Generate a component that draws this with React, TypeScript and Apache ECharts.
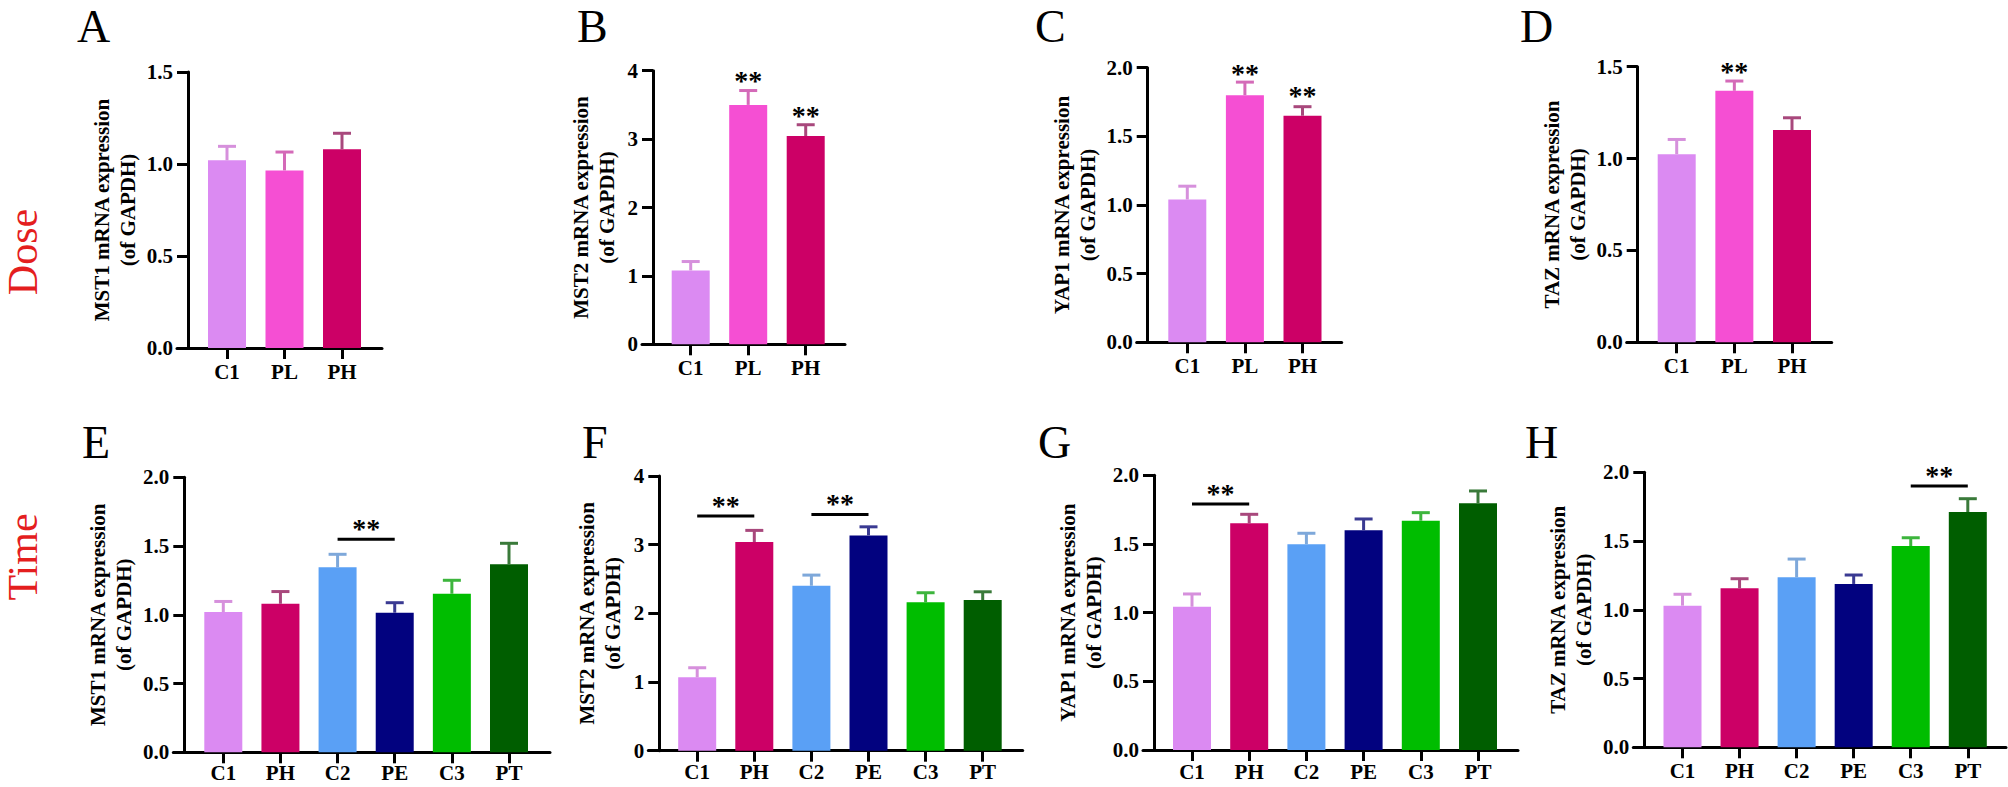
import React, { useEffect, useRef } from 'react';
import * as echarts from 'echarts';

// ---------- data ----------
const doseCategories = ['C1', 'PL', 'PH'];
const timeCategories = ['C1', 'PH', 'C2', 'PE', 'C3', 'PT'];

const mst1DoseMean = [1.02, 0.965, 1.08];
const mst1DoseSd = [0.076, 0.1, 0.087];
const mst2DoseMean = [1.08, 3.5, 3.045];
const mst2DoseSd = [0.13, 0.21, 0.165];
const yap1DoseMean = [1.04, 1.8, 1.65];
const yap1DoseSd = [0.097, 0.095, 0.066];
const tazDoseMean = [1.024, 1.369, 1.155];
const tazDoseSd = [0.08, 0.053, 0.067];

const mst1TimeMean = [1.02, 1.08, 1.345, 1.015, 1.153, 1.367];
const mst1TimeSd = [0.077, 0.089, 0.095, 0.073, 0.098, 0.153];
const mst2TimeMean = [1.068, 3.038, 2.402, 3.135, 2.16, 2.194];
const mst2TimeSd = [0.14, 0.17, 0.155, 0.125, 0.14, 0.12];
const yap1TimeMean = [1.043, 1.65, 1.498, 1.6, 1.669, 1.796];
const yap1TimeSd = [0.093, 0.066, 0.08, 0.082, 0.059, 0.09];
const tazTimeMean = [1.03, 1.156, 1.236, 1.188, 1.464, 1.711];
const tazTimeSd = [0.083, 0.07, 0.133, 0.065, 0.06, 0.097];

// significance stars directly above a bar: [categoryIndex, value of star centre]
const starsB = [[1, 3.91], [2, 3.41]];
const starsC = [[1, 1.99], [2, 1.827]];
const starsD = [[1, 1.495]];
// brackets: [fromIndex, toIndex, value of line]
const bracketsE = [[2, 3, 1.549]];
const bracketsF = [[0, 1, 3.416], [2, 3, 3.44]];
const bracketsG = [[0, 1, 1.791]];
const bracketsH = [[4, 5, 1.9]];

// ---------- styles ----------
const doseColors = ['#DB8AF2', '#F54FD3', '#CC0066'];
const doseErrColors = ['#D690DC', '#D46AB8', '#A8487C'];
const timeColors = ['#DB8AF2', '#CC0066', '#5AA0F5', '#02027F', '#00BD00', '#005E00'];
const timeErrColors = ['#D690DC', '#A8487C', '#7EA8DA', '#3A3A92', '#3DB53D', '#3A7A3A'];

const SERIF = '"Liberation Serif", "Times New Roman", serif';

type Panel = {
  letter: string;
  cats: string[];
  mean: number[];
  sd: number[];
  max: number;
  interval: number;
  name: string;
  colors: string[];
  errColors: string[];
  stars: number[][];
  brackets: number[][];
};

const panels: Panel[] = [
  { letter: 'A', cats: doseCategories, mean: mst1DoseMean, sd: mst1DoseSd, max: 1.5, interval: 0.5, name: 'MST1 mRNA expression\n(of GAPDH)', colors: doseColors, errColors: doseErrColors, stars: [], brackets: [] },
  { letter: 'B', cats: doseCategories, mean: mst2DoseMean, sd: mst2DoseSd, max: 4, interval: 1, name: 'MST2 mRNA expression\n(of GAPDH)', colors: doseColors, errColors: doseErrColors, stars: starsB, brackets: [] },
  { letter: 'C', cats: doseCategories, mean: yap1DoseMean, sd: yap1DoseSd, max: 2, interval: 0.5, name: 'YAP1 mRNA expression\n(of GAPDH)', colors: doseColors, errColors: doseErrColors, stars: starsC, brackets: [] },
  { letter: 'D', cats: doseCategories, mean: tazDoseMean, sd: tazDoseSd, max: 1.5, interval: 0.5, name: 'TAZ mRNA expression\n(of GAPDH)', colors: doseColors, errColors: doseErrColors, stars: starsD, brackets: [] },
  { letter: 'E', cats: timeCategories, mean: mst1TimeMean, sd: mst1TimeSd, max: 2, interval: 0.5, name: 'MST1 mRNA expression\n(of GAPDH)', colors: timeColors, errColors: timeErrColors, stars: [], brackets: bracketsE },
  { letter: 'F', cats: timeCategories, mean: mst2TimeMean, sd: mst2TimeSd, max: 4, interval: 1, name: 'MST2 mRNA expression\n(of GAPDH)', colors: timeColors, errColors: timeErrColors, stars: [], brackets: bracketsF },
  { letter: 'G', cats: timeCategories, mean: yap1TimeMean, sd: yap1TimeSd, max: 2, interval: 0.5, name: 'YAP1 mRNA expression\n(of GAPDH)', colors: timeColors, errColors: timeErrColors, stars: [], brackets: bracketsG },
  { letter: 'H', cats: timeCategories, mean: tazTimeMean, sd: tazTimeSd, max: 2, interval: 0.5, name: 'TAZ mRNA expression\n(of GAPDH)', colors: timeColors, errColors: timeErrColors, stars: [], brackets: bracketsH },
];

// ---------- layout (pixels) ----------
const LETTER_SIZE = 46;
const layout = [
  { axisX: 188, top: 72, bottom: 348, firstC: 227, step: 57.5, xEnd: 382, letterX: 77, letterBase: 42, labelMargin: 13 },
  { axisX: 653, top: 70.7, bottom: 344.3, firstC: 690.7, step: 57.5, xEnd: 845, letterX: 577, letterBase: 42, labelMargin: 13 },
  { axisX: 1147.7, top: 67.7, bottom: 342.3, firstC: 1187.3, step: 57.6, xEnd: 1341.7, letterX: 1035, letterBase: 42, labelMargin: 13 },
  { axisX: 1637.7, top: 66.7, bottom: 342.3, firstC: 1676.7, step: 57.65, xEnd: 1831.7, letterX: 1520, letterBase: 42, labelMargin: 13 },
  { axisX: 184.3, top: 477.3, bottom: 752.3, firstC: 223.3, step: 57.14, xEnd: 550, letterX: 82, letterBase: 458, labelMargin: 10 },
  { axisX: 659.3, top: 476, bottom: 750.7, firstC: 697.2, step: 57.1, xEnd: 1022.7, letterX: 582, letterBase: 458, labelMargin: 11 },
  { axisX: 1154, top: 475.3, bottom: 750, firstC: 1192, step: 57.2, xEnd: 1518, letterX: 1038, letterBase: 458, labelMargin: 11 },
  { axisX: 1644.3, top: 472.3, bottom: 747.3, firstC: 1682.5, step: 57.06, xEnd: 2006, letterX: 1525, letterBase: 458, labelMargin: 13 },
];

const TICK = 11;
const LW = 3;

function buildOption() {
  const grid: any[] = [];
  const xAxis: any[] = [];
  const yAxis: any[] = [];
  const series: any[] = [];
  const graphic: any[] = [];

  panels.forEach((p, k) => {
    const L = layout[k];
    const n = p.cats.length;
    const barLeft = L.firstC - L.step / 2;
    const height = L.bottom - L.top;
    const frameLeft = L.axisX - TICK;
    const gBar = grid.length;
    grid.push({ left: barLeft, top: L.top, width: L.step * n, height, outerBoundsMode: 'none', containLabel: false });
    const gFrame = grid.length;
    grid.push({ left: frameLeft, top: L.top, width: L.xEnd - frameLeft, height, outerBoundsMode: 'none', containLabel: false });

    const xBar = xAxis.length;
    xAxis.push({
      type: 'category',
      gridIndex: gBar,
      data: p.cats,
      boundaryGap: true,
      axisLine: { show: false },
      axisTick: { show: true, alignWithLabel: true, length: TICK, lineStyle: { color: '#000', width: LW } },
      axisLabel: { show: true, interval: 0, margin: L.labelMargin, color: '#000', fontFamily: SERIF, fontWeight: 'bold', fontSize: 21 },
      splitLine: { show: false },
    });
    xAxis.push({
      type: 'value',
      gridIndex: gFrame,
      min: 0,
      max: 1,
      axisLine: { show: true, onZero: false, lineStyle: { color: '#000', width: LW } },
      axisTick: { show: false },
      axisLabel: { show: false },
      splitLine: { show: false },
    });

    const isDecimal = p.interval < 1;
    const yBar = yAxis.length;
    yAxis.push({
      type: 'value',
      gridIndex: gBar,
      min: 0,
      max: p.max,
      interval: p.interval,
      offset: barLeft - L.axisX,
      name: p.name,
      nameLocation: 'middle',
      nameGap: isDecimal ? 47 : 33,
      nameMoveOverlap: false,
      nameTextStyle: { color: '#000', fontFamily: SERIF, fontWeight: 'bold', fontSize: 21, lineHeight: 26 },
      axisLine: { show: true, onZero: false, lineStyle: { color: '#000', width: LW } },
      axisTick: { show: true, length: TICK, lineStyle: { color: '#000', width: LW } },
      axisLabel: {
        show: true,
        margin: 15,
        color: '#000',
        fontFamily: SERIF,
        fontWeight: 'bold',
        fontSize: 21,
        formatter: (v: number) => (isDecimal ? v.toFixed(1) : String(Math.round(v))),
      },
      splitLine: { show: false },
    });
    yAxis.push({ type: 'value', gridIndex: gFrame, min: 0, max: 1, show: false, splitLine: { show: false } });

    series.push({
      type: 'bar',
      xAxisIndex: xBar,
      yAxisIndex: yBar,
      barWidth: 38,
      z: 2,
      data: p.mean.map((v, i) => ({ value: v, itemStyle: { color: p.colors[i] } })),
    });

    series.push({
      type: 'custom',
      xAxisIndex: xBar,
      yAxisIndex: yBar,
      z: 3,
      clip: false,
      data: p.mean.map((m, i) => [i, m + p.sd[i]]),
      renderItem: (params: any, api: any) => {
        const i = params.dataIndex;
        const m = p.mean[i];
        const s = p.sd[i];
        const p0 = api.coord([i, m]);
        const p1 = api.coord([i, m + s]);
        const color = p.errColors[i];
        return {
          type: 'group',
          children: [
            { type: 'line', shape: { x1: p0[0], y1: p0[1], x2: p1[0], y2: p1[1] }, style: { stroke: color, lineWidth: LW } },
            { type: 'line', shape: { x1: p1[0] - 9, y1: p1[1], x2: p1[0] + 9, y2: p1[1] }, style: { stroke: color, lineWidth: LW } },
          ],
        };
      },
    });

    if (p.stars.length) {
      series.push({
        type: 'custom',
        xAxisIndex: xBar,
        yAxisIndex: yBar,
        z: 4,
        clip: false,
        data: p.stars.map((s) => [s[0], s[1]]),
        renderItem: (params: any, api: any) => {
          const s = p.stars[params.dataIndex];
          const pt = api.coord([s[0], s[1]]);
          return {
            type: 'text',
            x: pt[0],
            y: pt[1] + 4,
            style: { text: '**', font: `bold 28px ${SERIF}`, fill: '#000', align: 'center', verticalAlign: 'middle' },
          };
        },
      });
    }

    if (p.brackets.length) {
      series.push({
        type: 'custom',
        xAxisIndex: xBar,
        yAxisIndex: yBar,
        z: 4,
        clip: false,
        data: p.brackets.map((b) => [b[0], b[2]]),
        renderItem: (params: any, api: any) => {
          const b = p.brackets[params.dataIndex];
          const a = api.coord([b[0], b[2]]);
          const c = api.coord([b[1], b[2]]);
          return {
            type: 'group',
            children: [
              { type: 'line', shape: { x1: a[0], y1: a[1], x2: c[0], y2: c[1] }, style: { stroke: '#000', lineWidth: LW } },
              {
                type: 'text',
                x: (a[0] + c[0]) / 2,
                y: a[1] - 11,
                style: { text: '**', font: `bold 28px ${SERIF}`, fill: '#000', align: 'center', verticalAlign: 'middle' },
              },
            ],
          };
        },
      });
    }

    // panel letter: centre of text placed so that the baseline lands at letterBase
    graphic.push({
      type: 'text',
      x: L.letterX,
      y: L.letterBase - 0.3375 * LETTER_SIZE,
      style: { text: p.letter, font: `${LETTER_SIZE}px ${SERIF}`, fill: '#000', align: 'left', verticalAlign: 'middle' },
    });
  });

  const SIDE = 42;
  const sideCentre = 37.5 - 0.3375 * SIDE;
  graphic.push({
    type: 'text',
    x: sideCentre,
    y: 252,
    rotation: Math.PI / 2,
    style: { text: 'Dose', font: `${SIDE}px ${SERIF}`, fill: '#E41E1E', align: 'center', verticalAlign: 'middle' },
  });
  graphic.push({
    type: 'text',
    x: sideCentre,
    y: 557,
    rotation: Math.PI / 2,
    style: { text: 'Time', font: `${SIDE}px ${SERIF}`, fill: '#E41E1E', align: 'center', verticalAlign: 'middle' },
  });

  return {
    animation: false,
    backgroundColor: '#ffffff',
    grid,
    xAxis,
    yAxis,
    series,
    graphic,
  };
}

export default function App() {
  const ref = useRef<HTMLDivElement>(null);
  useEffect(() => {
    if (!ref.current) return;
    const chart = echarts.init(ref.current, undefined, { renderer: 'svg' });
    chart.setOption(buildOption() as any);
    return () => {
      chart.dispose();
    };
  }, []);
  return (
    <div
      ref={ref}
      style={{ position: 'fixed', left: 0, top: 0, width: 2008, height: 787, background: '#fff' }}
    />
  );
}
